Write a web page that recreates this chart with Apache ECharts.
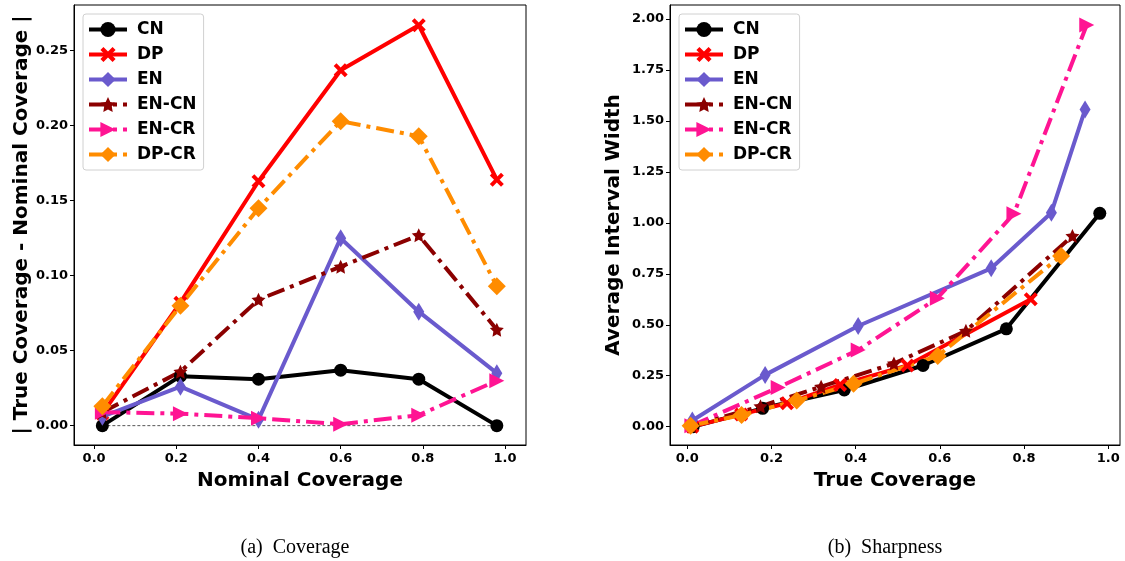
<!DOCTYPE html>
<html><head><meta charset="utf-8">
<script src="https://cdn.jsdelivr.net/npm/echarts@6/dist/echarts.min.js"></script>
<style>html,body{margin:0;padding:0;background:#fff}#c{width:1125px;height:561px}</style>
</head><body><div id="c"></div>
<script>
// ---------- data ----------
const seriesNames = ['CN', 'DP', 'EN', 'EN-CN', 'EN-CR', 'DP-CR'];
const nominalCoverage = [0.02, 0.21, 0.40, 0.60, 0.79, 0.98];
// (a) |true - nominal|
const covCN   = [0.000, 0.033, 0.031, 0.037, 0.031, 0.000];
const covDP   = [0.008, 0.082, 0.163, 0.237, 0.267, 0.164];
const covEN   = [0.006, 0.026, 0.004, 0.125, 0.076, 0.035];
const covENCN = [0.009, 0.036, 0.084, 0.106, 0.127, 0.064];
const covENCR = [0.009, 0.008, 0.005, 0.001, 0.007, 0.030];
const covDPCR = [0.013, 0.080, 0.145, 0.203, 0.193, 0.093];
// (b) true coverage vs average interval width
const trueCN   = [0.014, 0.179, 0.373, 0.560, 0.758, 0.980];
const widthCN  = [0.000, 0.090, 0.180, 0.300, 0.480, 1.047];
const trueDP   = [0.012, 0.128, 0.237, 0.363, 0.523, 0.816];
const widthDP  = [0.000, 0.060, 0.115, 0.205, 0.300, 0.625];
const trueEN   = [0.012, 0.185, 0.406, 0.722, 0.865, 0.945];
const widthEN  = [0.030, 0.254, 0.494, 0.777, 1.050, 1.556];
const trueENCN = [0.011, 0.174, 0.318, 0.491, 0.662, 0.915];
const widthENCN= [0.005, 0.100, 0.196, 0.310, 0.470, 0.936];
const trueENCR = [0.011, 0.216, 0.406, 0.594, 0.776, 0.949];
const widthENCR= [0.005, 0.192, 0.376, 0.630, 1.045, 1.971];
const trueDPCR = [0.008, 0.129, 0.260, 0.395, 0.595, 0.888];
const widthDPCR= [0.005, 0.057, 0.128, 0.210, 0.347, 0.838];
const xTicks = [0.0, 0.2, 0.4, 0.6, 0.8, 1.0];
const yTicksA = [0.00, 0.05, 0.10, 0.15, 0.20, 0.25];
const yTicksB = [0.00, 0.25, 0.50, 0.75, 1.00, 1.25, 1.50, 1.75, 2.00];
const zeroLine = [[0.02, 0], [0.98, 0]];

// ---------- styles ----------
const FONT = 'DejaVu Sans';
const DASHDOT = [18, 6, 4, 6];
const styles = {
  'CN':    {color: '#000000', type: 'solid', symbol: 'circle', size: 13},
  'DP':    {color: '#ff0000', type: 'solid', symbol: 'path://M-10,-6L-6,-10L0,-4L6,-10L10,-6L4,0L10,6L6,10L0,4L-6,10L-10,6L-4,0Z', size: 14},
  'EN':    {color: '#6a5acd', type: 'solid', symbol: 'diamond', size: [11, 18]},
  'EN-CN': {color: '#8b0000', type: DASHDOT, symbol: 'path://M0,-10L2.9,-4L9.5,-3.1L4.7,1.5L5.9,8.1L0,5L-5.9,8.1L-4.7,1.5L-9.5,-3.1L-2.9,-4Z', size: 14},
  'EN-CR': {color: '#ff1493', type: DASHDOT, symbol: 'path://M-8,-8L8,0L-8,8Z', size: 15},
  'DP-CR': {color: '#ff8c00', type: DASHDOT, symbol: 'diamond', size: 18}
};
const dataA = {'CN': covCN, 'DP': covDP, 'EN': covEN, 'EN-CN': covENCN, 'EN-CR': covENCR, 'DP-CR': covDPCR};
const dataB = {
  'CN': [trueCN, widthCN], 'DP': [trueDP, widthDP], 'EN': [trueEN, widthEN],
  'EN-CN': [trueENCN, widthENCN], 'EN-CR': [trueENCR, widthENCR], 'DP-CR': [trueDPCR, widthDPCR]
};

function mkSeries(name, pts, idx) {
  const s = styles[name];
  return {
    name: name, type: 'line', xAxisIndex: idx, yAxisIndex: idx,
    data: pts, symbol: s.symbol, symbolSize: s.size, showSymbol: true,
    itemStyle: {color: s.color, borderWidth: 0},
    lineStyle: {color: s.color, width: 4, type: s.type},
    animation: false, silent: true
  };
}

const series = [];
series.push({type: 'line', xAxisIndex: 0, yAxisIndex: 0, data: zeroLine, symbol: 'none',
  lineStyle: {color: '#555', width: 1, type: [3, 2]}, animation: false, silent: true, z: 1});
seriesNames.forEach(n => series.push(mkSeries(n, nominalCoverage.map((x, i) => [x, dataA[n][i]]), 0)));
seriesNames.forEach(n => series.push(mkSeries(n, dataB[n][0].map((x, i) => [x, dataB[n][1][i]]), 1)));

const tickLbl = () => ({fontFamily: FONT, fontWeight: 'bold', fontSize: 13, color: '#000'});
function xAxis(idx, name) {
  return {
    type: 'value', gridIndex: idx, min: idx === 0 ? -0.049 : -0.041, max: idx === 0 ? 1.051 : 1.028,
    name: name, nameLocation: 'middle', nameGap: 26,
    nameTextStyle: {fontFamily: FONT, fontWeight: 'bold', fontSize: 20, color: '#000'},
    axisLine: {show: true, onZero: false, lineStyle: {color: '#000', width: 1}},
    axisTick: {show: true, inside: false, length: 4, customValues: xTicks, lineStyle: {color: '#000'}},
    axisLabel: Object.assign(tickLbl(), {customValues: xTicks, margin: 7, formatter: v => v.toFixed(1)}),
    splitLine: {show: false}
  };
}
function yAxis(idx, name, min, max, ticks, gap) {
  return {
    type: 'value', gridIndex: idx, min: min, max: max,
    name: name, nameLocation: 'middle', nameGap: gap,
    nameTextStyle: {fontFamily: FONT, fontWeight: 'bold', fontSize: 20, color: '#000'},
    axisLine: {show: true, onZero: false, lineStyle: {color: '#000', width: 1}},
    axisTick: {show: true, inside: false, length: 4, customValues: ticks, lineStyle: {color: '#000'}},
    axisLabel: Object.assign(tickLbl(), {customValues: ticks, margin: 6, formatter: v => v.toFixed(2)}),
    splitLine: {show: false}
  };
}

const legendCommon = {
  orient: 'vertical', data: seriesNames, itemWidth: 38, itemHeight: 19, itemGap: 8,
  backgroundColor: '#fff', borderColor: '#d0d0d0', borderWidth: 1, borderRadius: 3,
  padding: [7, 7, 7, 4], selectedMode: false,
  lineStyle: {width: 4},
  textStyle: {fontFamily: FONT, fontWeight: 'bold', fontSize: 17, color: '#000', padding: [0, 0, 0, 5]}
};

const option = {
  backgroundColor: '#fff',
  animation: false,
  title: [
    {text: '(a)  Coverage', left: 290, top: 533, textAlign: 'center',
     textStyle: {fontFamily: 'Liberation Serif', fontWeight: 'normal', fontSize: 20, color: '#000'}},
    {text: '(b)  Sharpness', left: 880, top: 533, textAlign: 'center',
     textStyle: {fontFamily: 'Liberation Serif', fontWeight: 'normal', fontSize: 20, color: '#000'}}
  ],
  grid: [
    {left: 74, top: 5, width: 452, height: 440, show: true, borderColor: '#000', borderWidth: 1, containLabel: false},
    {left: 670, top: 5, width: 450, height: 440, show: true, borderColor: '#000', borderWidth: 1, containLabel: false}
  ],
  xAxis: [xAxis(0, 'Nominal Coverage'), xAxis(1, 'True Coverage')],
  yAxis: [
    yAxis(0, '| True Coverage - Nominal Coverage |', -0.0129, 0.2805, yTicksA, 42),
    yAxis(1, 'Average Interval Width', -0.09, 2.069, yTicksB, 46)
  ],
  legend: [
    Object.assign({}, legendCommon, {left: 83, top: 14}),
    Object.assign({}, legendCommon, {left: 679, top: 14})
  ],
  series: series
};
const chart = echarts.init(document.getElementById('c'), null, {renderer: 'canvas'});
chart.setOption(option);
</script></body></html>
